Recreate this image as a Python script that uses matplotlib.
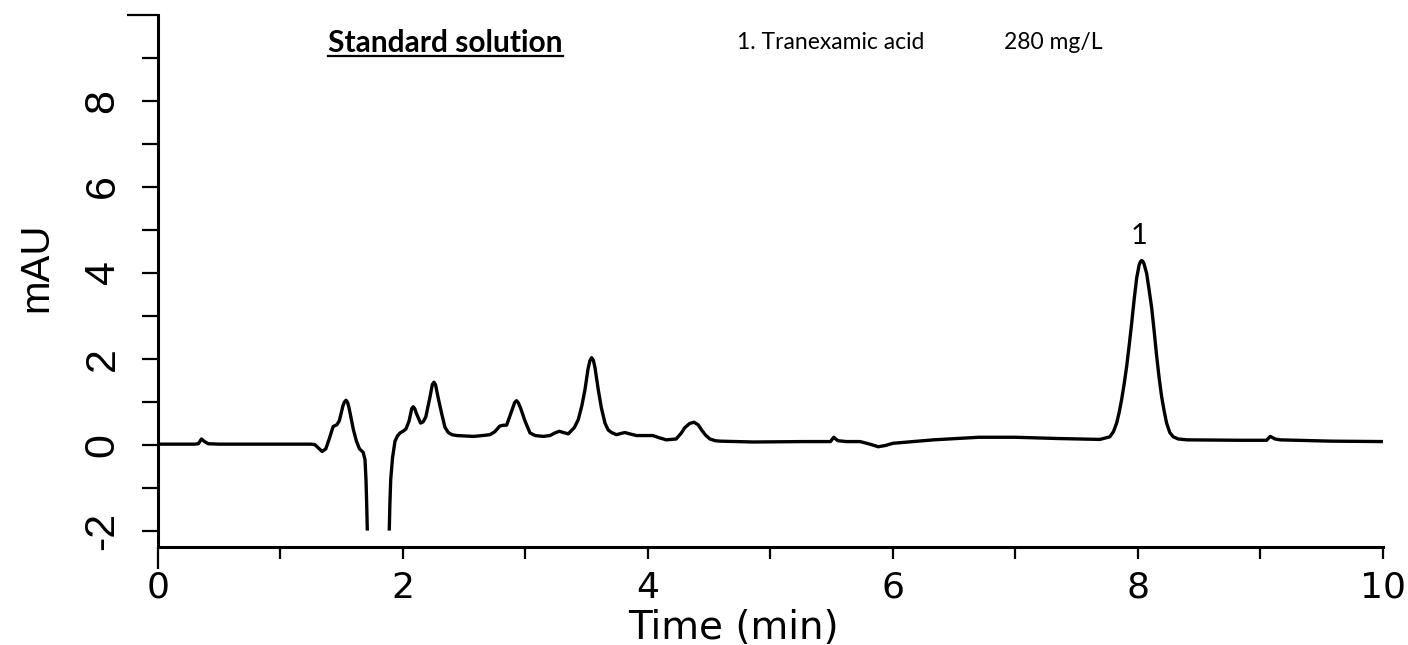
import numpy as np
import matplotlib.pyplot as plt
from matplotlib.lines import Line2D

plt.rcParams['axes.unicode_minus'] = False

# trace (time in min, signal in mAU)
# the solvent dip below -2 is cut off in the original, hence the gap
time_min = [
    0.00, 0.30, 0.33, 0.355, 0.38, 0.41, 0.50, 1.00, 1.25, 1.28,
    1.31, 1.34, 1.37, 1.40, 1.43, 1.46, 1.48, 1.51, 1.522, 1.535, 1.548, 1.56,
    1.595, 1.62, 1.645, 1.675, 1.69, 1.698, 1.704, 1.709, np.nan,
    1.888, 1.893, 1.900, 1.915, 1.935, 1.955, 1.976, 2.00, 2.024, 2.05,
    2.071, 2.084, 2.097, 2.11, 2.144, 2.165, 2.187, 2.22, 2.24, 2.253, 2.266,
    2.285, 2.316, 2.343,
    2.37, 2.40, 2.44, 2.574, 2.65, 2.71, 2.75, 2.79, 2.82, 2.846,
    2.88, 2.912, 2.927, 2.942, 2.96, 2.996, 3.037, 3.08, 3.145, 3.20, 3.24, 3.276,
    3.31, 3.35, 3.40, 3.431, 3.46, 3.486, 3.51, 3.526, 3.54, 3.554, 3.567, 3.594,
    3.62, 3.649, 3.675, 3.703, 3.744, 3.78, 3.812, 3.85, 3.906, 4.04,
    4.09, 4.15, 4.23, 4.27, 4.30, 4.34, 4.376, 4.41, 4.438, 4.47,
    4.506, 4.55, 4.588, 4.86, 5.27, 5.49, 5.517, 5.55, 5.62, 5.73,
    5.80, 5.88, 5.94, 6.00, 6.33, 6.70, 7.00, 7.36, 7.69, 7.77,
    7.80, 7.826, 7.847, 7.867, 7.888, 7.908, 7.929, 7.949, 7.97, 7.99,
    8.01, 8.02, 8.03, 8.04, 8.05, 8.071, 8.09, 8.112, 8.133, 8.153, 8.173, 8.193,
    8.214, 8.234, 8.26, 8.288, 8.33, 8.40, 8.84, 9.05, 9.08, 9.12,
    9.16, 9.57, 9.94, 10.0,
]
signal_mau = [
    0.01, 0.01, 0.02, 0.13, 0.07, 0.02, 0.01, 0.01, 0.01, 0.00,
    -0.08, -0.16, -0.10, 0.15, 0.42, 0.46, 0.55, 0.90, 0.99, 1.03, 0.98, 0.85,
    0.35, 0.08, -0.10, -0.18, -0.35, -0.81, -1.40, -2.00, np.nan,
    -2.00, -1.40, -0.81, -0.30, 0.08, 0.20, 0.27, 0.31, 0.36, 0.55,
    0.83, 0.88, 0.83, 0.72, 0.50, 0.53, 0.65, 1.10, 1.40, 1.45, 1.39,
    1.12, 0.72, 0.40,
    0.28, 0.23, 0.21, 0.19, 0.21, 0.23, 0.30, 0.43, 0.45, 0.45,
    0.72, 0.98, 1.02, 0.97, 0.85, 0.55, 0.27, 0.21, 0.19, 0.21, 0.27, 0.31,
    0.28, 0.25, 0.40, 0.58, 0.90, 1.28, 1.75, 1.95, 2.02, 1.96, 1.80, 1.28,
    0.85, 0.50, 0.34, 0.28, 0.23, 0.26, 0.28, 0.25, 0.21, 0.21,
    0.16, 0.11, 0.13, 0.26, 0.39, 0.49, 0.52, 0.46, 0.34, 0.22,
    0.13, 0.09, 0.08, 0.06, 0.07, 0.07, 0.17, 0.09, 0.07, 0.07,
    0.02, -0.05, -0.02, 0.03, 0.11, 0.17, 0.17, 0.14, 0.12, 0.18,
    0.30, 0.50, 0.75, 1.05, 1.42, 1.82, 2.32, 2.83, 3.40, 3.88,
    4.18, 4.25, 4.28, 4.26, 4.20, 3.98, 3.62, 3.18, 2.62, 2.05, 1.55, 1.12,
    0.78, 0.50, 0.28, 0.18, 0.13, 0.11, 0.10, 0.10, 0.19, 0.13,
    0.11, 0.08, 0.07, 0.07,
]

peak_names = ['1']
peak_rt = [8.01]
peak_top = [4.28]

compound_list = ['1. Tranexamic acid']
concentrations = ['280 mg/L']
panel_title = 'Standard solution'

x_major = [0, 2, 4, 6, 8, 10]
x_minor = [1, 3, 5, 7, 9]
y_major = [-2, 0, 2, 4, 6, 8, 10]
y_minor = [-1, 1, 3, 5, 7, 9]

fig = plt.figure(figsize=(14.08, 6.45), dpi=100)
ax = fig.add_axes([0.1122, 0.1527, 0.8700, 0.8248])

ax.plot(time_min, signal_mau, color='black', lw=2.4,
        solid_joinstyle='round', solid_capstyle='butt')

ax.set_xlim(0, 10)
ax.set_ylim(-2.37, 10)

for side in ['top', 'right']:
    ax.spines[side].set_visible(False)
for side in ['left', 'bottom']:
    ax.spines[side].set_linewidth(2.2)

ax.set_xticks(x_major)
ax.set_xticks(x_minor, minor=True)
ax.set_yticks(y_major)
ax.set_yticks(y_minor, minor=True)
ax.set_yticklabels([str(v) for v in y_major[:-1]] + [''])

ax.tick_params(axis='x', which='both', direction='out', length=8.5, width=1.6,
               pad=9, labelsize=26)
ax.tick_params(axis='y', which='both', direction='out', length=11.5, width=1.6,
               pad=14, labelsize=31, labelrotation=90)
for lab in ax.get_yticklabels():
    lab.set_family('Liberation Sans')
    lab.set_va('center')

# longer tick marks at the two axis ends
ax.xaxis.get_major_ticks()[0].tick1line.set_markersize(16)
ax.yaxis.get_major_ticks()[-1].tick1line.set_markersize(22)

ax.set_xlabel('Time (min)', fontsize=28)
ax.xaxis.set_label_coords(0.47, -0.153)
ax.xaxis.label.set_va('center')
ax.set_ylabel('mAU', fontsize=29, family='Liberation Sans')
ax.yaxis.set_label_coords(-0.0996, 0.525)
ax.yaxis.label.set_va('center')

for name, rt, top in zip(peak_names, peak_rt, peak_top):
    ax.text(rt, top + 0.38, name, ha='center', va='baseline',
            fontsize=21, family='Lato')

title = ax.text(1.39, 9.13, panel_title, ha='left', va='baseline',
                fontsize=21.5, fontweight='bold', family='Lato')
ax.text(4.73, 9.2, compound_list[0], ha='left', va='baseline',
        fontsize=16.5, family='Lato')
ax.text(6.91, 9.2, concentrations[0], ha='left', va='baseline',
        fontsize=16.5, family='Lato')

# underline under the panel title
fig.canvas.draw()
bb = title.get_window_extent().transformed(fig.transFigure.inverted())
fig.add_artist(Line2D([bb.x0, bb.x1], [bb.y0 + 0.001, bb.y0 + 0.001],
                      transform=fig.transFigure, color='black', lw=1.6))

fig.savefig('out.png', dpi=100)
